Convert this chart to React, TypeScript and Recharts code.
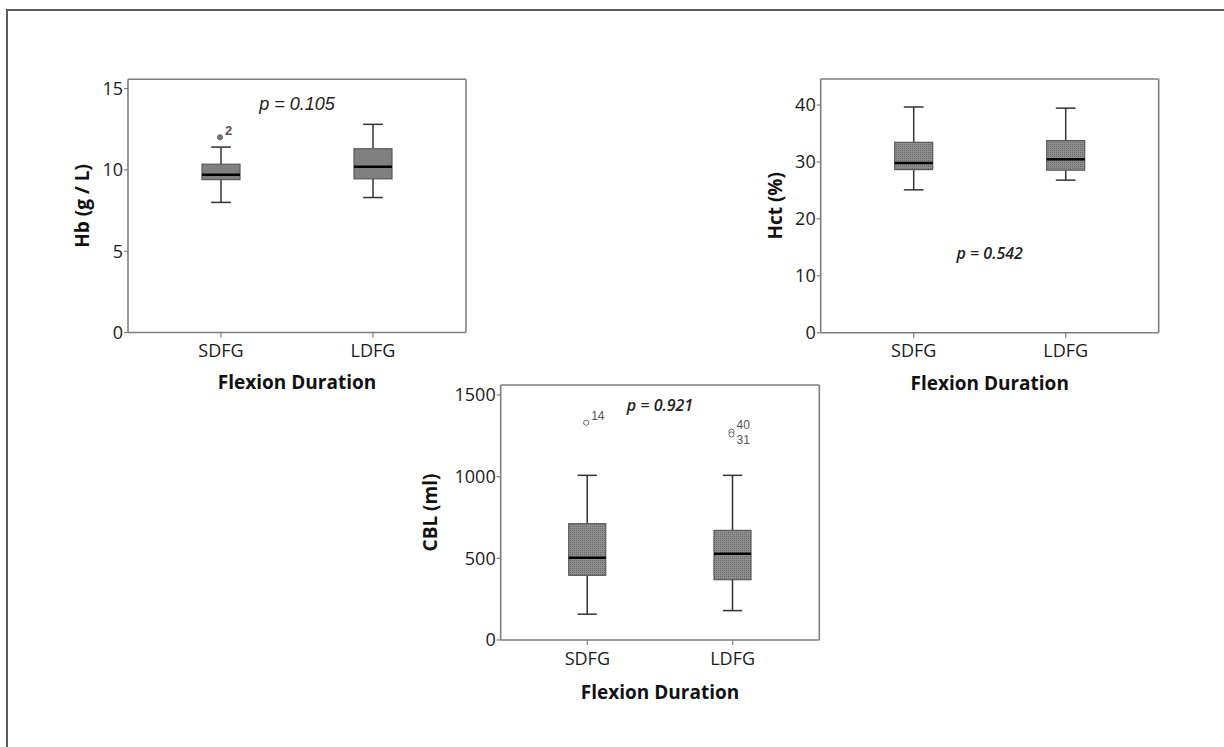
import React from "react";
import { ComposedChart, Bar, XAxis, YAxis, ReferenceLine, CartesianGrid } from "recharts";

const groups = ["SDFG", "LDFG"];

// five-number summaries per group: [min, q1, median, q3, max]
const hbStats = [
  [8.0, 9.4, 9.7, 10.35, 11.4],
  [8.3, 9.45, 10.2, 11.3, 12.8],
];
const hctStats = [
  [25.1, 28.65, 29.8, 33.45, 39.65],
  [26.8, 28.55, 30.45, 33.75, 39.45],
];
const cblStats = [
  [158, 396, 504, 712, 1008],
  [180, 369, 528, 671, 1008],
];

const hbOutliers = [[{ value: 12.0, id: "2" }], []];
const hctOutliers = [[], []];
const cblOutliers = [
  [{ value: 1330, id: "14" }],
  [
    { value: 1275, id: "40" },
    { value: 1258, id: "31" },
  ],
];

const hbTicks = [0, 5, 10, 15];
const hctTicks = [0, 10, 20, 30, 40];
const cblTicks = [0, 500, 1000, 1500];

const hbDomain = [0, 15.57];
const hctDomain = [0, 44.57];
const cblDomain = [0, 1561];

const FRAME = "#7d7d7d";
const TICK_FONT = "'Open Sans', sans-serif";

type Outlier = { value: number; id: string };

const buildRows = (stats: number[][], outliers: Outlier[][]) =>
  groups.map((g, i) => ({
    name: g,
    range: [stats[i][0], stats[i][4]],
    min: stats[i][0],
    q1: stats[i][1],
    median: stats[i][2],
    q3: stats[i][3],
    max: stats[i][4],
    outliers: outliers[i],
  }));

const BoxShape = (props: any) => {
  const { x, y, width, height, payload, boxFill, hollow } = props;
  if (payload == null) return null;
  const top = Math.min(y, y + height);
  const bottom = Math.max(y, y + height);
  const k = (bottom - top) / (payload.max - payload.min);
  const py = (v: number) => bottom - (v - payload.min) * k;
  const cx = x + width / 2;
  const cap = width * 0.26;
  return (
    <g>
      <line x1={cx} x2={cx} y1={py(payload.max)} y2={py(payload.q3)} stroke="#333" strokeWidth={1.5} />
      <line x1={cx} x2={cx} y1={py(payload.q1)} y2={py(payload.min)} stroke="#333" strokeWidth={1.5} />
      <line x1={cx - cap} x2={cx + cap} y1={py(payload.max)} y2={py(payload.max)} stroke="#333" strokeWidth={1.5} />
      <line x1={cx - cap} x2={cx + cap} y1={py(payload.min)} y2={py(payload.min)} stroke="#333" strokeWidth={1.5} />
      <rect
        x={x}
        y={py(payload.q3)}
        width={width}
        height={py(payload.q1) - py(payload.q3)}
        fill={boxFill}
        stroke="#595959"
        strokeWidth={1.2}
      />
      <line x1={x} x2={x + width} y1={py(payload.median)} y2={py(payload.median)} stroke="#000" strokeWidth={2.5} />
      {payload.outliers.map((o: Outlier, j: number) => {
        const oy = py(o.value);
        const up = j % 2 === 0;
        return (
          <g key={o.id}>
            <circle
              cx={cx - 1}
              cy={oy}
              r={2.6}
              fill={hollow ? "#fff" : "#777"}
              stroke="#666"
              strokeWidth={1}
            />
            <text
              x={cx + 4}
              y={up ? oy - 2.5 : oy + 10}
              fontSize={hollow ? 12 : 13}
              fontWeight={hollow ? 400 : 700}
              fontFamily="'Liberation Sans', Arial, sans-serif"
              fill="#555"
            >
              {o.id}
            </text>
          </g>
        );
      })}
    </g>
  );
};

interface BoxChartProps {
  id: string;
  stats: number[][];
  outliers: Outlier[][];
  ticks: number[];
  domain: number[];
  yLabel: string;
  pText: string;
  pY: number;
  pFont: any;
  left: number;
  top: number;
  width: number;
  height: number;
  margin: { top: number; right: number; bottom: number; left: number };
  yWidth: number;
  yLabelGap: number;
  xLabelGap: number;
  pad: number;
  barSize: number;
  dotted: boolean;
  hollow: boolean;
}

const BoxChart = (p: BoxChartProps) => {
  const rows = buildRows(p.stats, p.outliers);
  const patternId = `dots-${p.id}`;
  const boxFill = p.dotted ? `url(#${patternId})` : "#808080";

  const renderYLabel = (props: any) => {
    const vb = props.viewBox;
    const lx = vb.x + vb.width - p.yLabelGap;
    const ly = vb.y + vb.height / 2;
    return (
      <text
        x={lx}
        y={ly}
        transform={`rotate(-90, ${lx}, ${ly})`}
        textAnchor="middle"
        dominantBaseline="central"
        fontFamily={TICK_FONT}
        fontWeight={700}
        fontSize={19}
        fill="#111"
      >
        {p.yLabel}
      </text>
    );
  };

  const renderXLabel = (props: any) => {
    const vb = props.viewBox;
    return (
      <text
        x={vb.x + vb.width / 2}
        y={vb.y + p.xLabelGap}
        textAnchor="middle"
        dominantBaseline="central"
        fontFamily={TICK_FONT}
        fontWeight={700}
        fontSize={19}
        fill="#111"
      >
        Flexion Duration
      </text>
    );
  };

  return (
    <div style={{ position: "absolute", left: p.left, top: p.top }}>
      <ComposedChart width={p.width} height={p.height} data={rows} margin={p.margin}>
        <defs>
          <pattern id={patternId} width={2} height={2} patternUnits="userSpaceOnUse">
            <rect width={2} height={2} fill="#8e8e8e" />
            <rect width={1} height={1} fill="#6a6a6a" />
          </pattern>
        </defs>
        {/* top and right edges of the plot frame */}
        <CartesianGrid
          stroke={FRAME}
          strokeWidth={1.6}
          horizontalCoordinatesGenerator={({ offset }: any) => [offset.top]}
          verticalCoordinatesGenerator={({ offset }: any) => [offset.left + offset.width]}
        />
        <XAxis
          dataKey="name"
          height={50}
          padding={{ left: p.pad, right: p.pad }}
          axisLine={{ stroke: FRAME, strokeWidth: 1.6 }}
          tickLine={{ stroke: FRAME, strokeWidth: 1.2 }}
          tickSize={5}
          tickMargin={7}
          tick={{ fill: "#1a1a1a", fontSize: 18, fontFamily: TICK_FONT }}
          label={renderXLabel}
        />
        <YAxis
          type="number"
          domain={p.domain}
          ticks={p.ticks}
          interval={0}
          width={p.yWidth}
          axisLine={{ stroke: FRAME, strokeWidth: 1.6 }}
          tickLine={{ stroke: FRAME, strokeWidth: 1.2 }}
          tickSize={4}
          tickMargin={1}
          tick={{ fill: "#1a1a1a", fontSize: 18, fontFamily: TICK_FONT }}
          label={renderYLabel}
        />
        <ReferenceLine
          y={p.pY}
          stroke="none"
          label={{ value: p.pText, position: "center", ...p.pFont }}
        />
        <Bar
          dataKey="range"
          barSize={p.barSize}
          isAnimationActive={false}
          shape={(props: any) => <BoxShape {...props} boxFill={boxFill} hollow={p.hollow} />}
        />
      </ComposedChart>
    </div>
  );
};

export default function App() {
  return (
    <div
      style={{
        position: "absolute",
        left: 0,
        top: 0,
        width: 1224,
        height: 747,
        overflow: "hidden",
        background: "#fff",
      }}
    >
      <div
        style={{
          position: "absolute",
          left: 6,
          top: 9,
          width: 1400,
          height: 900,
          border: "2px solid #5a5a5a",
        }}
      />
      <BoxChart
        id="hb"
        stats={hbStats}
        outliers={hbOutliers}
        ticks={hbTicks}
        domain={hbDomain}
        yLabel="Hb (g / L)"
        pText="p = 0.105"
        pY={14.07}
        pFont={{ fill: "#222", fontSize: 18, fontStyle: "italic", fontFamily: "'Liberation Sans', Arial, sans-serif" }}
        left={50}
        top={60}
        width={430}
        height={340}
        margin={{ top: 19.3, right: 14, bottom: 17.5, left: 10 }}
        yWidth={68}
        yLabelGap={46.3}
        xLabelGap={49}
        pad={17}
        barSize={38}
        dotted={false}
        hollow={false}
      />
      <BoxChart
        id="hct"
        stats={hctStats}
        outliers={hctOutliers}
        ticks={hctTicks}
        domain={hctDomain}
        yLabel="Hct (%)"
        pText="p = 0.542"
        pY={14.0}
        pFont={{ fill: "#222", fontSize: 16, fontStyle: "italic", fontWeight: 600, fontFamily: TICK_FONT }}
        left={740}
        top={60}
        width={440}
        height={340}
        margin={{ top: 19, right: 21.3, bottom: 17.3, left: 10 }}
        yWidth={70.7}
        yLabelGap={45.7}
        xLabelGap={50}
        pad={17}
        barSize={38}
        dotted={true}
        hollow={true}
      />
      <BoxChart
        id="cbl"
        stats={cblStats}
        outliers={cblOutliers}
        ticks={cblTicks}
        domain={cblDomain}
        yLabel="CBL (ml)"
        pText="p = 0.921"
        pY={1438}
        pFont={{ fill: "#222", fontSize: 16, fontStyle: "italic", fontWeight: 600, fontFamily: TICK_FONT }}
        left={400}
        top={370}
        width={440}
        height={340}
        margin={{ top: 15, right: 20.7, bottom: 20, left: 20 }}
        yWidth={80.7}
        yLabelGap={70.7}
        xLabelGap={51.7}
        pad={14}
        barSize={37}
        dotted={true}
        hollow={true}
      />
    </div>
  );
}
